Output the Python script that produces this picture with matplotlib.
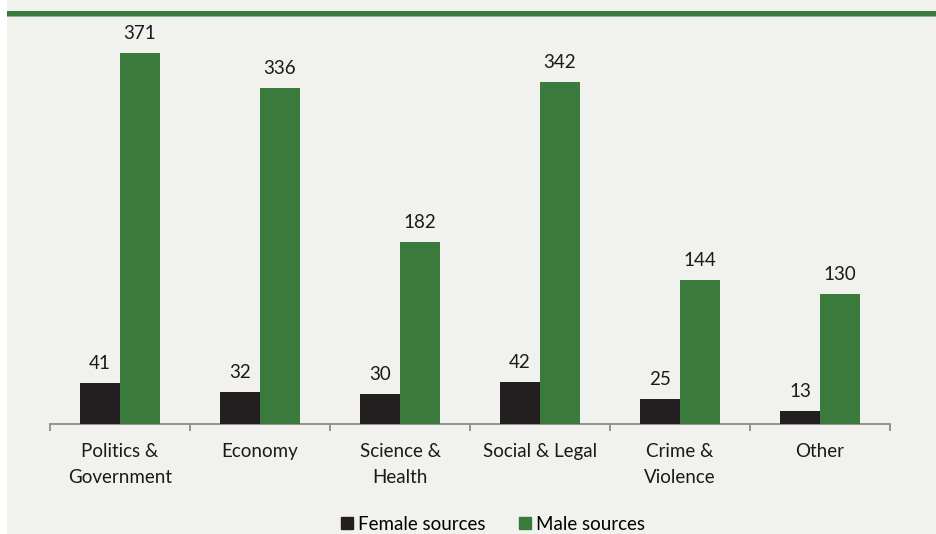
import numpy as np
import matplotlib.pyplot as plt
from matplotlib.patches import Rectangle
from matplotlib.lines import Line2D

categories = ["Politics &\nGovernment", "Economy", "Science &\nHealth",
              "Social & Legal", "Crime &\nViolence", "Other"]
female = [41, 32, 30, 42, 25, 13]
male = [371, 336, 182, 342, 144, 130]
series_names = ["Female sources", "Male sources"]

BG = "#F1F2EE"
DARK = "#231F20"
GREEN = "#3A7A3C"

plt.rcParams['font.family'] = ['Lato', 'DejaVu Sans']

W, H = 936, 534
fig = plt.figure(figsize=(W / 100, H / 100), dpi=100)
fig.patch.set_facecolor("white")

# panel background and top rule
fig.patches.append(Rectangle((7 / W, 0), 1 - 7 / W, 1, transform=fig.transFigure,
                             facecolor=BG, edgecolor="none", zorder=-10))
fig.patches.append(Rectangle((7 / W, 1 - 16 / H), 1 - 7 / W, 5 / H, transform=fig.transFigure,
                             facecolor=GREEN, edgecolor="none", zorder=-5))
fig.patches.append(Rectangle((7 / W, 1 - 17 / H), 1 - 7 / W, 1.2 / H, transform=fig.transFigure,
                             facecolor="#8FB48F", edgecolor="none", zorder=-5))

# axes: x from 50 to 890 px, bottom at 424 px, 1 px per unit
left, right, bottom, top = 50, 890, 424, 24
ax = fig.add_axes([left / W, 1 - bottom / H, (right - left) / W, (bottom - top) / H])
ax.set_facecolor("none")

x = np.arange(len(categories))
bw = 40 / 140
ax.bar(x - bw / 2, female, bw, color=DARK, label=series_names[0], zorder=3)
ax.bar(x + bw / 2, male, bw, color=GREEN, label=series_names[1], zorder=3)

fs = 13.5
for xi, f, m in zip(x, female, male):
    ax.annotate(str(f), (xi - bw / 2, f), xytext=(0, 8), textcoords="offset points",
                ha="center", va="bottom", fontsize=fs, color="#1a1a1a")
    ax.annotate(str(m), (xi + bw / 2, m), xytext=(0, 8), textcoords="offset points",
                ha="center", va="bottom", fontsize=fs, color="#1a1a1a")

ax.set_xlim(-0.5, len(categories) - 0.5)
ax.set_ylim(0, 400)
ax.set_yticks([])
for s in ["left", "right", "top"]:
    ax.spines[s].set_visible(False)
ax.spines["bottom"].set_color("#8C8C8C")
ax.spines["bottom"].set_linewidth(1.3)

ax.set_xticks(np.arange(len(categories) + 1) - 0.5)
ax.set_xticklabels([])
ax.tick_params(axis="x", length=5, width=1.3, color="#8C8C8C")
for xi, c in zip(x, categories):
    ax.text(xi, -19, c, ha="center", va="top", fontsize=fs, color="#1a1a1a",
            linespacing=1.65)

handles = [Line2D([], [], marker="s", linestyle="none", markersize=9, color=DARK),
           Line2D([], [], marker="s", linestyle="none", markersize=9, color=GREEN)]
fig.legend(handles, series_names, loc="center", bbox_to_anchor=(491 / W, 1 - 524 / H),
           ncol=2, frameon=False, fontsize=fs, handletextpad=0.1, columnspacing=1.6,
           handlelength=1.0)

fig.savefig("out.png", dpi=100, facecolor=fig.get_facecolor())
